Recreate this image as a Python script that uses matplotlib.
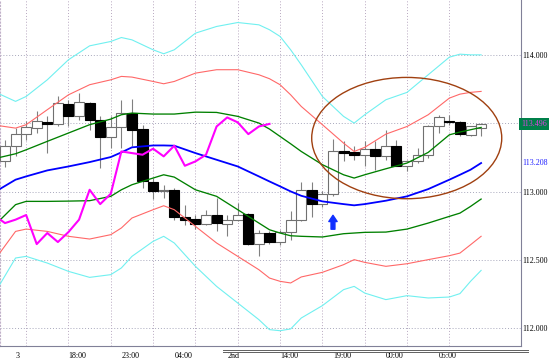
import numpy as np
import matplotlib
matplotlib.use('Agg')
import matplotlib.pyplot as plt
from matplotlib.patches import Ellipse
from matplotlib.lines import Line2D

# hourly candles, index 0 = 12:00 on the 1st
opens = [113.221, 113.331, 113.421, 113.465, 113.507, 113.497, 113.641, 113.556, 113.648, 113.526,
         113.397, 113.470, 113.575, 113.460, 113.067, 113.001, 113.009, 112.811, 112.801, 112.762,
         112.828, 112.762, 112.794, 112.835, 112.615, 112.696, 112.630, 112.703, 112.794, 113.013,
         112.908, 112.984, 113.294, 113.287, 113.270, 113.314, 113.258, 113.336, 113.189, 113.221,
         113.270, 113.477, 113.519, 113.507, 113.416, 113.465]
highs = [113.380, 113.465, 113.514, 113.587, 113.551, 113.704, 113.673, 113.722, 113.653, 113.551,
         113.551, 113.673, 113.680, 113.490, 113.099, 113.050, 113.026, 112.904, 112.830, 112.867,
         112.952, 112.830, 112.916, 112.842, 112.720, 112.708, 112.720, 112.855, 113.070, 113.070,
         113.001, 113.385, 113.368, 113.331, 113.368, 113.368, 113.448, 113.380, 113.233, 113.319,
         113.490, 113.563, 113.563, 113.514, 113.482, 113.502]
lows = [113.177, 113.258, 113.380, 113.429, 113.282, 113.477, 113.477, 113.526, 113.453, 113.172,
        113.319, 113.319, 113.331, 113.026, 112.945, 112.952, 112.794, 112.757, 112.725, 112.757,
        112.708, 112.672, 112.781, 112.610, 112.525, 112.618, 112.610, 112.647, 112.781, 112.813,
        112.886, 112.965, 113.221, 113.233, 113.184, 113.155, 113.233, 113.184, 113.148, 113.209,
        113.245, 113.429, 113.490, 113.409, 113.404, 113.404]
closes = [113.331, 113.421, 113.470, 113.514, 113.494, 113.648, 113.556, 113.656, 113.526, 113.397,
          113.470, 113.575, 113.453, 113.074, 113.001, 113.009, 112.811, 112.794, 112.762, 112.825,
          112.769, 112.794, 112.828, 112.615, 112.696, 112.630, 112.703, 112.794, 113.013, 112.908,
          112.984, 113.294, 113.282, 113.270, 113.314, 113.258, 113.336, 113.189, 113.221, 113.270,
          113.477, 113.543, 113.507, 113.421, 113.477, 113.496]

# bollinger band readings (candle index -> price)
band_x = [-0.5, 1, 2, 4, 6, 8, 10, 11, 12, 14, 15, 16, 18, 20, 22, 24, 25, 26, 27, 28,
          30, 32, 33, 34, 36, 38, 40, 42, 43, 44, 45]
upper3 = [113.714, 113.661, 113.697, 113.819, 113.966, 114.068, 114.100, 114.129, 114.112, 114.039,
          114.010, 114.039, 114.161, 114.210, 114.239, 114.222, 114.186, 114.137, 114.039, 113.929,
          113.697, 113.551, 113.502, 113.563, 113.673, 113.727, 113.856, 113.985, 114.007, 114.002, 114.002]
upper2 = [113.482, 113.465, 113.490, 113.600, 113.709, 113.783, 113.819, 113.844, 113.839, 113.807,
          113.790, 113.807, 113.868, 113.893, 113.893, 113.856, 113.827, 113.783, 113.709, 113.624,
          113.490, 113.355, 113.294, 113.324, 113.421, 113.477, 113.563, 113.685, 113.714, 113.727, 113.734]
upper1 = [113.250, 113.277, 113.306, 113.368, 113.429, 113.490, 113.531, 113.563, 113.575, 113.568,
          113.568, 113.568, 113.582, 113.580, 113.551, 113.502, 113.458, 113.404, 113.350, 113.294,
          113.197, 113.123, 113.099, 113.123, 113.167, 113.209, 113.287, 113.416, 113.436, 113.453, 113.470]
middle = [113.018, 113.087, 113.111, 113.155, 113.184, 113.216, 113.253, 113.287, 113.324, 113.338,
          113.338, 113.336, 113.282, 113.233, 113.184, 113.111, 113.074, 113.038, 113.001, 112.969,
          112.928, 112.908, 112.899, 112.908, 112.933, 112.965, 113.018, 113.087, 113.123, 113.160, 113.209]
lower1 = [112.789, 112.904, 112.928, 112.928, 112.930, 112.933, 112.965, 113.013, 113.050, 113.099,
          113.123, 113.106, 113.013, 112.965, 112.867, 112.769, 112.720, 112.696, 112.676, 112.672,
          112.667, 112.691, 112.696, 112.701, 112.703, 112.725, 112.769, 112.818, 112.842, 112.891, 112.945]
lower2 = [112.549, 112.708, 112.725, 112.708, 112.672, 112.652, 112.684, 112.733, 112.806, 112.867,
          112.896, 112.867, 112.745, 112.623, 112.525, 112.427, 112.366, 112.342, 112.330, 112.374,
          112.408, 112.464, 112.501, 112.481, 112.452, 112.471, 112.501, 112.530, 112.549, 112.610, 112.672]
lower3 = [112.317, 112.513, 112.525, 112.476, 112.415, 112.371, 112.391, 112.440, 112.525, 112.635,
          112.672, 112.623, 112.452, 112.305, 112.183, 112.061, 111.988, 111.980, 111.993, 112.073,
          112.164, 112.281, 112.305, 112.256, 112.208, 112.237, 112.220, 112.227, 112.252, 112.342, 112.422]

lag = 20  # chikou span shift

tick_idx = [1, 6, 11, 16, 21, 26, 31, 36, 41]
tick_labels = ['3', '18:00', '23:00', '04:00', '2nd', '14:00', '19:00', '00:00', '05:00']
price_ticks = [112.0, 112.5, 113.0, 114.0]
last_price = 113.496
ma_price = 113.208

W, H = 554, 363
fig = plt.figure(figsize=(W / 100, H / 100), dpi=100)
ax = fig.add_axes([0, 17 / H, 521 / W, 346 / H])
ax.set_xlim(-0.47, 48.77)
ax.set_ylim(111.868, 114.404)

font = dict(family='Liberation Serif', size=5.8)

# grid
for gy in [112.0, 112.5, 113.0, 113.5, 114.0]:
    ax.axhline(gy, color='#a8a8bc', lw=0.7, ls=(0, (1, 2)), zorder=0)
for gx in range(2, 43, 4):
    ax.axvline(gx, color='#b8a8c0', lw=0.7, ls=(0, (1, 2)), zorder=0)

o = np.array(opens)
h = np.array(highs)
l = np.array(lows)
c = np.array(closes)
idx = np.arange(len(o))
up = c >= o

ax.vlines(idx, l, h, color='#808080', lw=0.8, zorder=2)
ax.bar(idx[up], (c - o)[up], bottom=o[up], width=0.95, color='white',
       edgecolor='#707070', lw=0.8, zorder=3)
ax.bar(idx[~up], (o - c)[~up], bottom=c[~up], width=0.95, color='black',
       edgecolor='black', lw=0.8, zorder=3)

ax.plot(band_x, upper3, color='#70f0f0', lw=0.8, zorder=4)
ax.plot(band_x, lower3, color='#70f0f0', lw=0.8, zorder=4)
ax.plot(band_x, upper2, color='#ff6868', lw=0.8, zorder=4)
ax.plot(band_x, lower2, color='#ff6868', lw=0.8, zorder=4)
ax.plot(band_x, upper1, color='#008000', lw=0.95, zorder=4)
ax.plot(band_x, lower1, color='#008000', lw=0.95, zorder=4)
ax.plot(band_x, middle, color='#0000ff', lw=1.3, zorder=5)

# lagging line = closes shifted back
ax.plot(idx[lag - 1:] - lag, c[lag - 1:], color='#ff00ff', lw=1.5, zorder=5)

ax.add_patch(Ellipse((37.97, 113.392), 17.96, 0.889, fill=False,
                     edgecolor='#a04010', lw=1.0, zorder=6))
ax.annotate('', xy=(31, 112.826), xytext=(31, 112.724),
            arrowprops=dict(arrowstyle='simple,head_width=0.6,head_length=0.45,tail_width=0.28',
                            color='#1030ff', mutation_scale=10, shrinkA=0, shrinkB=0))

for s in ['top']:
    ax.spines[s].set_visible(False)
ax.spines['left'].set_color('#c0b0c8')
ax.spines['left'].set_linestyle((0, (1, 2)))
ax.spines['right'].set_color('#808098')
ax.spines['bottom'].set_color('#808098')
for s in ['left', 'right', 'bottom']:
    ax.spines[s].set_linewidth(0.8)

ax.set_xticks(tick_idx)
ax.set_xticklabels(tick_labels, ha='left', **font)
ax.yaxis.tick_right()
ax.set_yticks(price_ticks)
ax.set_yticklabels(['%.3f' % p for p in price_ticks], **font)
ax.tick_params(length=0, pad=1.2)
ax.tick_params(axis='x', pad=4.5)

ytr = ax.get_yaxis_transform()
ax.text(1.0, last_price, '%.3f' % last_price, transform=ytr, ha='left', va='center',
        color='#e040e0', clip_on=False, **font,
        bbox=dict(boxstyle='square,pad=0.25', fc='#00804a', ec='none'))
ax.text(1.0 + 1.4 / 521, ma_price, '%.3f' % ma_price, transform=ytr, ha='left', va='center',
        color='#2020ff', clip_on=False, **font)

# double rule under the date label
for yy in [349.5, 351.5]:
    fig.add_artist(Line2D([223 / W, 528 / W], [1 - yy / H, 1 - yy / H],
                          color='#606060', lw=0.7))

fig.savefig('out.png', dpi=100)
